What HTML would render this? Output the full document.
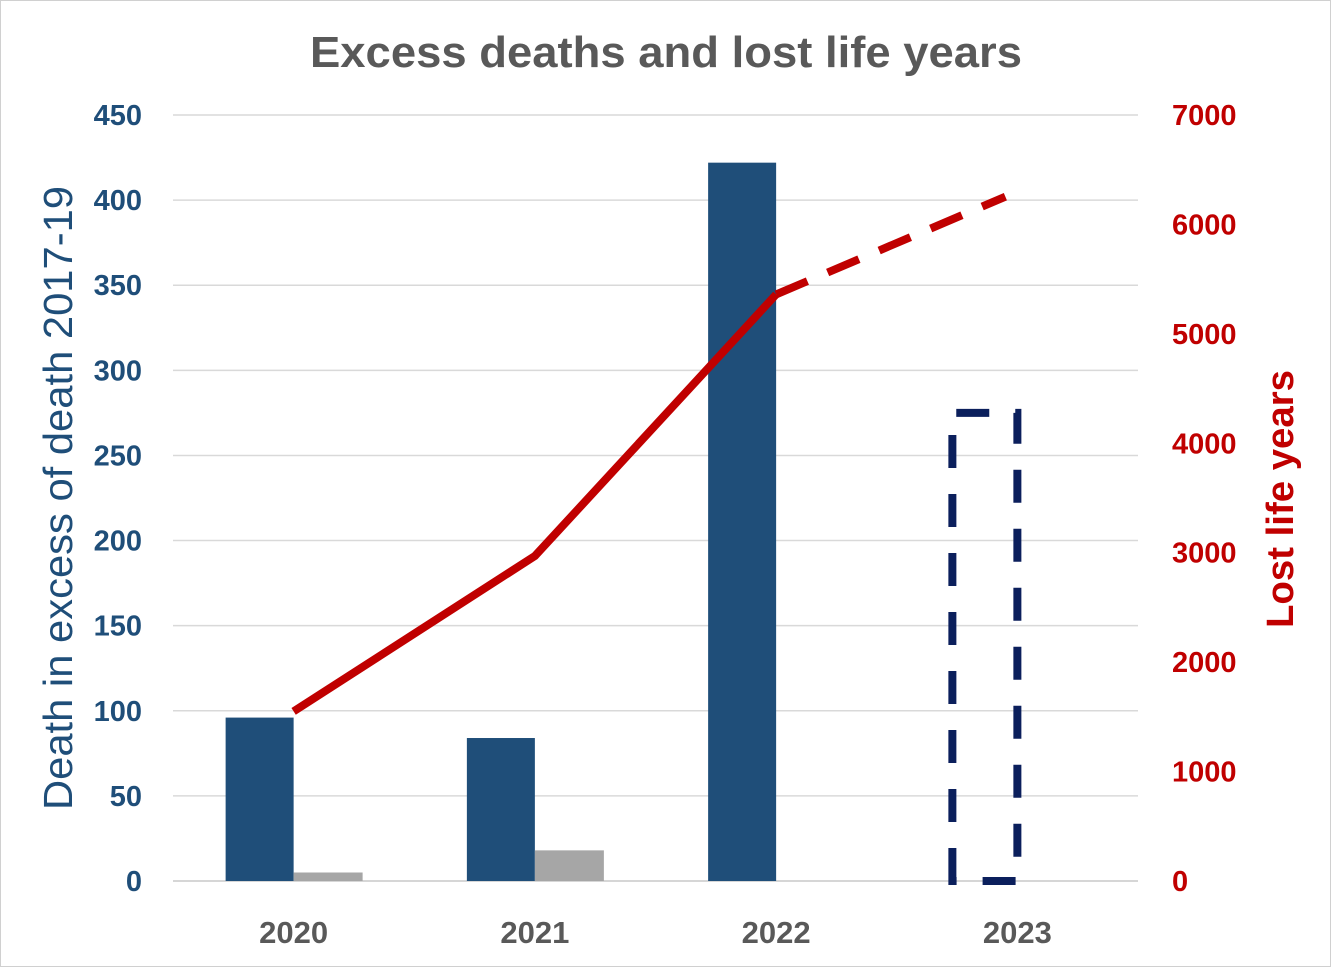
<!DOCTYPE html>
<html><head><meta charset="utf-8"><style>
html,body{margin:0;padding:0;background:#fff}
svg{display:block;font-family:"Liberation Sans",sans-serif}
</style></head><body>
<svg id="chart" width="1331" height="967" viewBox="0 0 1331 967">
<rect x="0.5" y="0.5" width="1330" height="966" fill="#fff" stroke="#d0d0d0"/>
<text x="666" y="67" text-anchor="middle" font-size="44" font-weight="bold" fill="#595959" textLength="712" lengthAdjust="spacingAndGlyphs">Excess deaths and lost life years</text>
<g id="grid"></g>
<g id="bars"></g>
<g id="line"></g>
<g id="axes"></g>
<text transform="translate(72,498) rotate(-90)" text-anchor="middle" font-size="41" fill="#1f4e79" textLength="624" lengthAdjust="spacingAndGlyphs">Death in excess of death 2017-19</text>
<text transform="translate(1293,499) rotate(-90)" text-anchor="middle" font-size="38" font-weight="bold" fill="#c00000" textLength="258" lengthAdjust="spacingAndGlyphs">Lost life years</text>
</svg>
<script>
const categories = ["2020","2021","2022","2023"];
const excessDeaths = [96, 84, 422, null];
const grayValues = [5, 18, 0, 1];
const projectedDeaths = [null, null, null, 275];
const lostLifeYears = [1550, 2970, 5360, 6300];
const leftTicks = [0,50,100,150,200,250,300,350,400,450];
const rightTicks = [0,1000,2000,3000,4000,5000,6000,7000];

const NS="http://www.w3.org/2000/svg";
const X0=173,X1=1138,Y0=881,Y1=115;
const yL=v=>Y0-(v/450)*(Y0-Y1);
const yR=v=>Y0-(v/7000)*(Y0-Y1);
const band=(X1-X0)/categories.length;
const xC=i=>X0+band*(i+0.5);
const BW=68;
function mk(tag,attrs,parent,txt){const e=document.createElementNS(NS,tag);for(const k in attrs)e.setAttribute(k,attrs[k]);if(txt!=null)e.textContent=txt;parent.appendChild(e);return e;}
const grid=document.getElementById('grid'),bars=document.getElementById('bars'),line=document.getElementById('line'),axes=document.getElementById('axes');
leftTicks.forEach(t=>{
  const l=mk('line',{x1:X0,x2:X1,y1:yL(t),y2:yL(t),stroke:t===0?'#c8c8c8':'#d9d9d9','stroke-width':1.5},grid);
  
  
  const tx=mk('text',{x:142,y:yL(t)+10,'text-anchor':'end','font-size':29,'font-weight':'bold',fill:'#1f4e79'},axes,t);
  
  
});
rightTicks.forEach(t=>{
  const tx=mk('text',{x:1172,y:yR(t)+10,'font-size':29,'font-weight':'bold',fill:'#c00000'},axes,t);
  
  
});
categories.forEach((c,i)=>{
  const tx=mk('text',{x:xC(i),y:943,'text-anchor':'middle','font-size':31,'font-weight':'bold',fill:'#595959'},axes,c);
  
  
  if(excessDeaths[i]!=null){
    const r=mk('rect',{x:xC(i)-BW,y:yL(excessDeaths[i]),width:BW,height:Y0-yL(excessDeaths[i]),fill:'#1f4e79'},bars);
    
    
  }
  if(projectedDeaths[i]!=null){
    const x=xC(i)-BW+3,y=yL(projectedDeaths[i]);
    const p=mk('path',{d:`M${x},${Y0} L${x},${y} L${x+BW-3},${y} L${x+BW-3},${Y0} Z`,fill:'none',stroke:'#0b1f5c','stroke-width':8,'stroke-dasharray':'33 26'},bars);
    
    
  }
  if(grayValues[i]>0 && i!==3){
    const g=mk('rect',{x:xC(i),y:yL(grayValues[i]),width:BW+1,height:Y0-yL(grayValues[i]),fill:'#a6a6a6'},bars);
    
    
  }
});
const pts=lostLifeYears.map((v,i)=>[xC(i),yR(v)]);
const solid=mk('polyline',{points:pts.slice(0,3).map(p=>p.join(',')).join(' '),fill:'none',stroke:'#c00000','stroke-width':8,'stroke-linejoin':'round'},line);


const dash=mk('line',{x1:pts[2][0],y1:pts[2][1],x2:pts[3][0]-12,y2:pts[3][1]+(pts[2][1]-pts[3][1])*12/(pts[3][0]-pts[2][0]),stroke:'#c00000','stroke-width':8,'stroke-dasharray':'34 22'},line);


</script>
</body></html>
